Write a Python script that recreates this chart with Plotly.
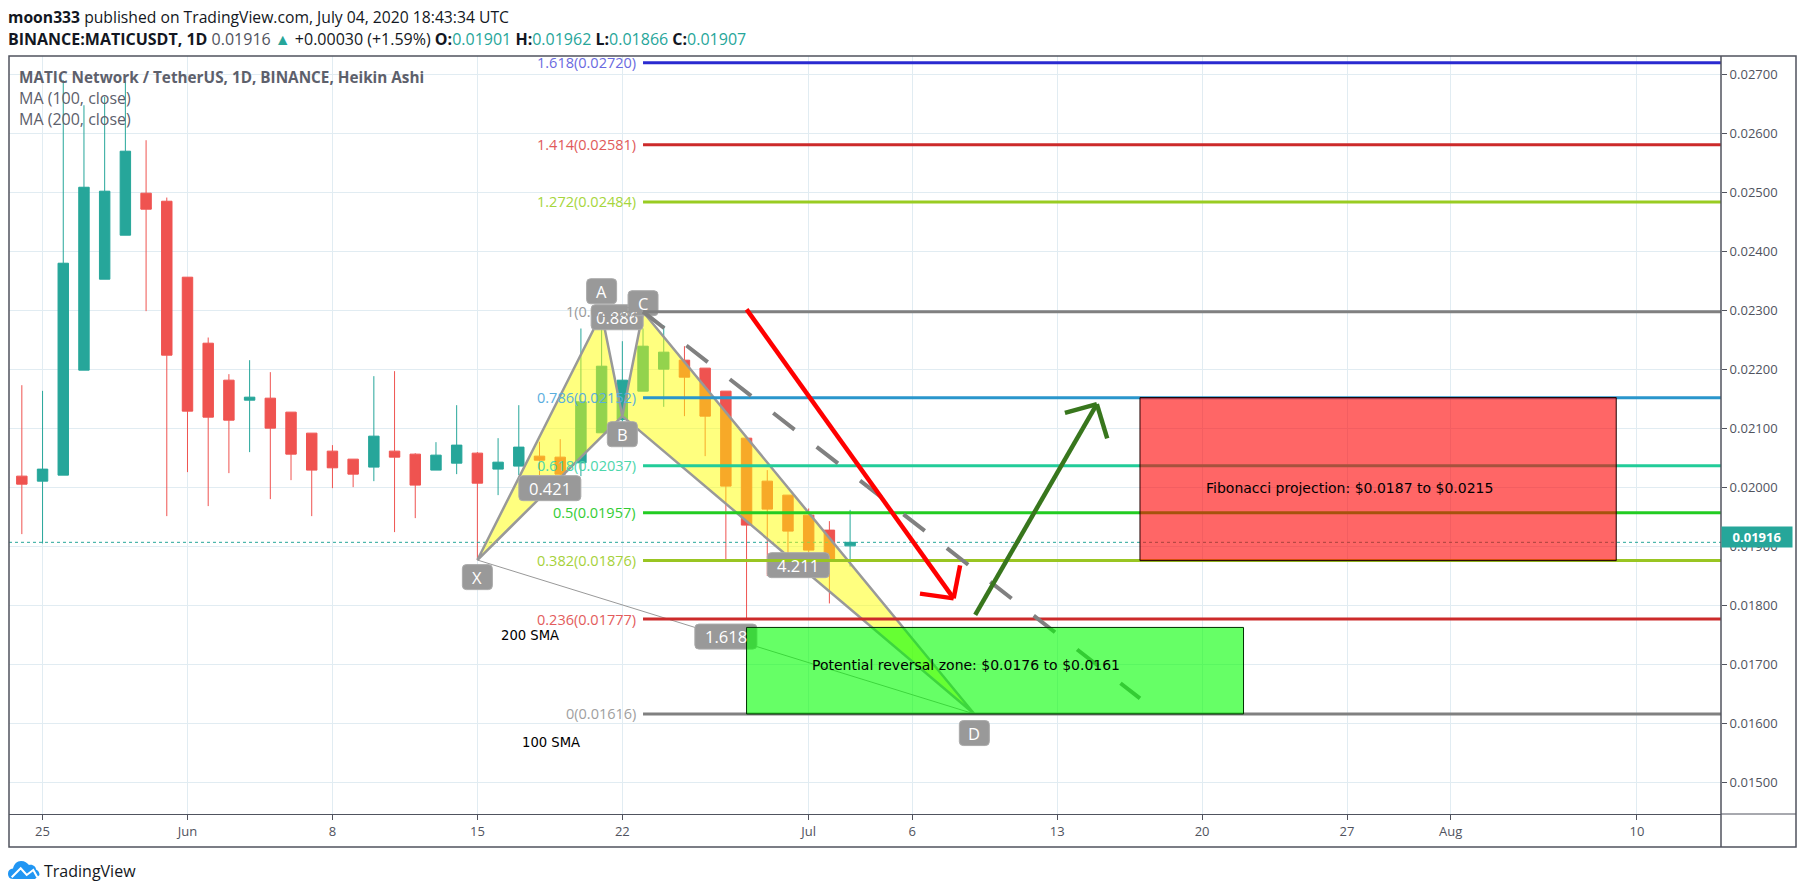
import plotly.graph_objects as go

# ---------- data ----------
dates = ["2020-05-24","2020-05-25","2020-05-26","2020-05-27","2020-05-28","2020-05-29","2020-05-30","2020-05-31",
         "2020-06-01","2020-06-02","2020-06-03","2020-06-04","2020-06-05","2020-06-06","2020-06-07","2020-06-08",
         "2020-06-09","2020-06-10","2020-06-11","2020-06-12","2020-06-13","2020-06-14","2020-06-15","2020-06-16",
         "2020-06-17","2020-06-18","2020-06-19","2020-06-20","2020-06-21","2020-06-22","2020-06-23","2020-06-24",
         "2020-06-25","2020-06-26","2020-06-27","2020-06-28","2020-06-29","2020-06-30","2020-07-01","2020-07-02",
         "2020-07-03"]
opens = [0.020192,0.020107,0.020209,0.021989,0.023531,0.024277,0.024989,0.024853,
         0.023565,0.022446,0.021819,0.021480,0.021514,0.021277,0.020921,0.020616,
         0.020480,0.020345,0.020616,0.020565,0.020294,0.020412,0.020582,0.020311,
         0.020362,0.020531,0.020514,0.020418,0.020927,0.021150,0.021633,0.022006,
         0.022158,0.022023,0.021633,0.020836,0.020107,0.019870,0.019531,0.019277,
         0.01901]
closes = [0.020056,0.020311,0.023802,0.025090,0.025023,0.025701,0.024718,0.022243,
          0.021294,0.021192,0.021141,0.021531,0.021006,0.020565,0.020294,0.020333,
          0.020226,0.020870,0.020514,0.020040,0.020548,0.020718,0.020073,0.020429,
          0.020684,0.020463,0.020226,0.021452,0.022056,0.021819,0.022395,0.022294,
          0.021870,0.021209,0.020023,0.019362,0.019633,0.019260,0.018938,0.018768,
          0.01907]
highs = [0.021734,0.021638,0.026904,0.026480,0.026621,0.026904,0.025887,0.024915,
         0.023565,0.022542,0.021921,0.022158,0.021955,0.021277,0.020921,0.020718,
         0.020480,0.021887,0.021972,0.020580,0.020768,0.021395,0.020599,0.020836,
         0.021395,0.020774,0.020819,0.022695,0.022695,0.022480,0.022695,0.022751,
         0.022395,0.022023,0.021633,0.020836,0.020294,0.019870,0.019644,0.019429,
         0.01962]
lows = [0.019209,0.019051,0.020209,0.021989,0.023531,0.024277,0.022989,0.019514,
        0.020260,0.019684,0.020243,0.020599,0.019802,0.020124,0.019514,0.019989,
        0.020006,0.020107,0.019243,0.019480,0.020294,0.020226,0.018768,0.019870,
        0.020209,0.020209,0.020209,0.020192,0.020927,0.021000,0.021633,0.021367,
        0.021209,0.020531,0.018780,0.017780,0.018500,0.018850,0.018800,0.018034,
        0.01866]

fib_ratios = ["1.618","1.414","1.272","1","0.786","0.618","0.5","0.382","0.236","0"]
fib_prices = [0.02720,0.02581,0.02484,0.02298,0.02152,0.02037,0.01957,0.01876,0.01777,0.01616]
fib_line_colors = ["#2a2ad0","#cc2a2a","#99cc22","#808080","#2a96cc","#22cc99","#22cc22","#99c522","#cc2a2a","#808080"]
fib_text_colors = ["#6a6ae0","#e05a5a","#a6d63c","#999999","#5aaede","#4cd6ab","#33cc33","#a6d13a","#e35c5c","#a0a0a0"]
fib_start = "2020-06-23"

pattern_dates = {"X":"2020-06-15","A":"2020-06-21","B":"2020-06-22","C":"2020-06-23","D":"2020-07-09"}
pattern_prices = {"X":0.01877,"A":0.02295,"B":0.02121,"C":0.02298,"D":0.01616}

label_texts = ["X","0.886","A","C","B","0.421","4.211","1.618","D"]
label_dates = ["2020-06-15","2020-06-21 18:00","2020-06-21","2020-06-23","2020-06-22","2020-06-18 12:00","2020-06-30 12:00","2020-06-27","2020-07-09"]
label_prices = [0.01848,0.022886,0.023327,0.023124,0.020903,0.019988,0.018683,0.017472,0.015836]

red_box = dict(x0="2020-07-17", x1="2020-08-09", y0=0.01876, y1=0.021524)
green_box = dict(x0="2020-06-28", x1="2020-07-22", y0=0.01616, y1=0.017627)

red_arrow = [("2020-06-28",0.02302),("2020-07-08",0.01812)]
red_wings = [("2020-07-06 09:00",0.0182),("2020-07-08 07:30",0.01868)]
green_arrow = [("2020-07-09 01:00",0.01784),("2020-07-14 22:00",0.021412)]
green_wings = [("2020-07-13 09:00",0.021264),("2020-07-15 10:00",0.020831)]
dash_line = [("2020-06-23",0.02298),("2020-07-17",0.016424)]

last_close = 0.01907
last_price = 0.01916
tick_dates = ["2020-05-25","2020-06-01","2020-06-08","2020-06-15","2020-06-22","2020-07-01","2020-07-06",
              "2020-07-13","2020-07-20","2020-07-27","2020-08-01","2020-08-10"]
tick_text = ["25","Jun","8","15","22","Jul","6","13","20","27","Aug","10"]
price_ticks = [0.015,0.016,0.017,0.018,0.019,0.020,0.021,0.022,0.023,0.024,0.025,0.026,0.027]

# ---------- layout geometry ----------
W, H = 1805, 894
L, R, T, B = 9, 1721, 56, 814
X_RANGE = ["2020-05-23 09:07", "2020-08-14 01:26"]
Y_RANGE = [0.014464, 0.027315]
TEAL, RED = "#26a69a", "#ef5350"
AXC = "#50535e"
FONT = "Open Sans"
def px(x): return (x - L) / (R - L)
def py(y): return (B - y) / (B - T)

fig = go.Figure()
fig.add_trace(go.Scatter(x=X_RANGE, y=[last_close, last_close], mode="lines",
                         line=dict(color=TEAL, width=1, dash="dot"), hoverinfo="skip"))
fig.add_trace(go.Candlestick(x=dates, open=opens, high=highs, low=lows, close=closes,
                             increasing=dict(line=dict(color=TEAL, width=1), fillcolor=TEAL),
                             decreasing=dict(line=dict(color=RED, width=1), fillcolor=RED),
                             whiskerwidth=0))
PAT = "#999999"
for tri in ("XAB", "BCD"):
    pts = list(tri) + [tri[0]]
    fig.add_trace(go.Scatter(x=[pattern_dates[p] for p in pts], y=[pattern_prices[p] for p in pts],
                             mode="lines", fill="toself", fillcolor="rgba(255,255,0,0.5)",
                             line=dict(color=PAT, width=2.5), hoverinfo="skip"))
for seg in ("XD", "AC"):
    fig.add_trace(go.Scatter(x=[pattern_dates[p] for p in seg], y=[pattern_prices[p] for p in seg],
                             mode="lines", line=dict(color=PAT, width=1), hoverinfo="skip"))

shapes, annos = [], []

# rounded label boxes
def rrect(w, h, r=4):
    a, b = w / 2, h / 2
    return (f"M {-a+r},{-b} L {a-r},{-b} Q {a},{-b} {a},{-b+r} L {a},{b-r} Q {a},{b} {a-r},{b} "
            f"L {-a+r},{b} Q {-a},{b} {-a},{b-r} L {-a},{-b+r} Q {-a},{-b} {-a+r},{-b} Z")
for t, d, p in zip(label_texts, label_dates, label_prices):
    w = 30 if len(t) == 1 else 62
    if t == "0.886":
        w = 52
    shapes.append(dict(type="path", xref="x", yref="y", xsizemode="pixel", ysizemode="pixel",
                       xanchor=d, yanchor=p, path=rrect(w, 25), fillcolor="#999999",
                       line=dict(color="#aaaaaa", width=1), layer="above"))
    annos.append(dict(x=d, y=p, xref="x", yref="y", text=t, showarrow=False,
                      font=dict(family=FONT, size=16.5, color="white")))

# fib levels
for ratio, price, lc, tc in zip(fib_ratios, fib_prices, fib_line_colors, fib_text_colors):
    shapes.append(dict(type="line", xref="x", yref="y", x0=fib_start, x1=X_RANGE[1], y0=price, y1=price,
                       line=dict(color=lc, width=3), layer="above"))
    annos.append(dict(x=fib_start, y=price, xref="x", yref="y", xanchor="right", xshift=-5, showarrow=False,
                      text=f"{ratio}({price:.5f})", font=dict(family=FONT, size=14.5, color=tc)))

# dashed line and boxes
shapes.append(dict(type="line", xref="x", yref="y", x0=dash_line[0][0], y0=dash_line[0][1],
                   x1=dash_line[1][0], y1=dash_line[1][1],
                   line=dict(color="#808080", width=4, dash="27px,28px"), layer="above"))
shapes.append(dict(type="rect", xref="x", yref="y", **red_box, fillcolor="rgba(255,0,0,0.6)",
                   line=dict(color="#200000", width=1), layer="above"))
shapes.append(dict(type="rect", xref="x", yref="y", **green_box, fillcolor="rgba(0,255,0,0.6)",
                   line=dict(color="#003000", width=1), layer="above"))

# arrows
for start, tip, wings, col in ((red_arrow[0], red_arrow[1], red_wings, "#ff0000"),
                               (green_arrow[0], green_arrow[1], green_wings, "#38761d")):
    for a in [start] + wings:
        shapes.append(dict(type="line", xref="x", yref="y", x0=a[0], y0=a[1], x1=tip[0], y1=tip[1],
                           line=dict(color=col, width=4.5), layer="above"))

# outer frame, time axis extension
shapes.append(dict(type="rect", xref="paper", yref="paper", x0=px(L), x1=px(1796), y0=py(847), y1=py(T),
                   line=dict(color=AXC, width=1.5), layer="above"))
shapes.append(dict(type="line", xref="paper", yref="paper", x0=px(R), x1=px(1796), y0=py(B), y1=py(B),
                   line=dict(color=AXC, width=1), layer="above"))
shapes.append(dict(type="line", xref="paper", yref="paper", x0=px(R), x1=px(R), y0=py(847), y1=py(T),
                   line=dict(color=AXC, width=1.5), layer="above"))

# TradingView logo
cloud = [(13,879),(9,879),(8,876),(8,873.5),(8,870.5),(10,869),(13,868.5),(14,864),(17,861),(21,861),
         (25,861),(27,863),(29,865),(33,864),(36,867),(36,869.5),(38.5,870.5),(39.5,872.5),(39.5,875),
         (39.5,877.5),(37.5,879),(35,879)]
P = [f"{px(a):.5f},{py(b):.5f}" for a, b in cloud]
path = f"M {P[0]} " + " ".join(f"C {P[i]} {P[i+1]} {P[i+2]}" for i in range(1, 19, 3)) + f" L {P[21]} Z"
shapes.append(dict(type="path", xref="paper", yref="paper", path=path, fillcolor="#2196f3",
                   line=dict(width=0), layer="above"))
zig = [(11.7,877.3),(20.7,868.3),(26.7,875),(33.3,870),(37.3,877.3)]
shapes.append(dict(type="path", xref="paper", yref="paper",
                   path="M " + " L ".join(f"{px(a):.5f},{py(b):.5f}" for a, b in zig),
                   line=dict(color="white", width=2), layer="above"))

# free text
def text(x, y, t, size=15, color="#131722", family=FONT, anchor="left"):
    annos.append(dict(x=px(x), y=py(y), xref="paper", yref="paper", xanchor=anchor, yanchor="middle",
                      showarrow=False, text=t, font=dict(family=family, size=size, color=color)))
G = TEAL
text(6, 17, "<b>moon333</b> published on TradingView.com, July 04, 2020 18:43:34 UTC", size=15.7)
text(6, 38.5, f"<b>BINANCE:MATICUSDT, 1D</b> <span style='color:#50535e'>0.01916</span> "
              f"<span style='color:{G}'>▲</span> +0.00030 (+1.59%) "
              f"<b>O:</b><span style='color:{G}'>0.01901</span> <b>H:</b><span style='color:{G}'>0.01962</span> "
              f"<b>L:</b><span style='color:{G}'>0.01866</span> <b>C:</b><span style='color:{G}'>0.01907</span>", size=16)
text(17, 76.7, "<b>MATIC Network / TetherUS, 1D, BINANCE, Heikin Ashi</b>", size=15.3, color="#5d606b")
text(17, 97.7, "MA (100, close)", size=16, color="#5d606b")
text(17, 118.7, "MA (200, close)", size=16, color="#5d606b")
text(499, 635, "200 SMA", size=13.2, color="#000000", family="DejaVu Sans")
text(520, 742.7, "100 SMA", size=13.2, color="#000000", family="DejaVu Sans")
text(810, 664.7, "Potential reversal zone: $0.0176 to $0.0161", size=14, color="#000000", family="DejaVu Sans")
text(1204, 488, "Fibonacci projection: $0.0187 to $0.0215", size=14, color="#000000", family="DejaVu Sans")
text(42, 870.7, "TradingView", size=16, color="#131722")

# last price badge
annos.append(dict(x=px(R), y=last_price, xref="paper", yref="y", xanchor="left", yanchor="middle",
                  showarrow=False, text=f"<b>{last_price:.5f}</b>", width=70, height=20, bgcolor=TEAL,
                  font=dict(family=FONT, size=13, color="white"), align="center", borderpad=0))

fig.update_layout(
    width=W, height=H, autosize=False, showlegend=False,
    margin=dict(l=L, r=W - R, t=T, b=H - B, pad=0),
    paper_bgcolor="white", plot_bgcolor="white",
    boxgap=0.28, hovermode=False,
    shapes=shapes, annotations=annos,
    xaxis=dict(type="date", range=X_RANGE, rangeslider=dict(visible=False),
               tickmode="array", tickvals=tick_dates, ticktext=tick_text,
               showgrid=True, gridcolor="#e1ecf2", gridwidth=1, zeroline=False,
               ticks="outside", ticklen=5, tickcolor=AXC, showline=True, linecolor=AXC, linewidth=1,
               tickfont=dict(family=FONT, size=13, color=AXC)),
    yaxis=dict(range=Y_RANGE, side="right", tickmode="array", tickvals=price_ticks,
               ticktext=[f"{v:.5f}" for v in price_ticks],
               showgrid=True, gridcolor="#e1ecf2", gridwidth=1, zeroline=False,
               ticks="outside", ticklen=5, tickcolor=AXC,
               tickfont=dict(family=FONT, size=13, color=AXC)),
)

fig.write_html("out.html", config=dict(displayModeBar=False),
               post_script="document.body.style.margin='0';document.documentElement.style.overflow='hidden';")
